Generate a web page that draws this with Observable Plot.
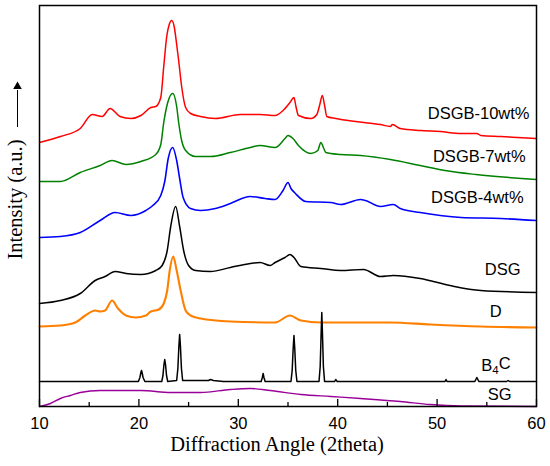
<!DOCTYPE html>
<html><head><meta charset="utf-8">
<script src="https://cdn.jsdelivr.net/npm/d3@7"></script>
<script src="https://cdn.jsdelivr.net/npm/@observablehq/plot@0.6"></script>
<style>html,body{margin:0;padding:0;background:#fff}</style>
</head><body><div id="chart"></div>
<script>
// ---- data ----
const xTicks = [10, 20, 30, 40, 50, 60];
const xMinorTicks = [15, 25, 35, 45, 55];
const seriesNames = ["DSGB-10wt%", "DSGB-7wt%", "DSGB-4wt%", "DSG", "D", "B4C", "SG"];
const seriesColors = ["#ff0000", "#008000", "#0000ff", "#000000", "#ff8000", "#000000", "#990099"];

const dsgb10 = [[10,264],[12.1,270],[14.1,278],[15.3,292],[16.3,290],[17.1,298],[18.1,290],[19.2,288],[20.2,291],[21.2,299],[21.7,300],[22.2,309],[22.5,340],[22.8,370],[23.05,382],[23.3,386],[23.55,380],[23.8,362],[24.0,346],[24.3,320],[24.7,299],[25.2,293],[26.2,290],[27.7,288],[30.2,292],[32.2,292],[33.7,291],[34.5,296],[35.2,304],[35.6,309],[35.8,300],[36.05,291],[37.3,288],[37.9,292],[38.2,302],[38.45,311],[38.7,300],[38.9,290],[39.8,288],[41.8,285],[44.3,282],[45.3,280],[45.5,282],[46.3,278],[48.3,276],[50.3,275],[52.4,273],[54.0,273],[54.4,271],[56.4,270],[60,268]];
const dsgb7 = [[10,225],[12.1,225],[14.1,234],[16.1,241],[17.3,246],[18.7,242],[20.2,245],[21.7,252],[22.2,262],[22.5,284],[22.9,304],[23.4,313],[23.8,300],[24.0,284],[24.3,266],[24.7,256],[25.7,250],[27.2,250],[29.2,254],[31.2,259],[32.2,261],[33.7,259],[34.7,268],[35.0,271],[35.5,268],[36.05,261],[37.3,253],[38.0,256],[38.3,264],[38.6,258],[38.8,254],[40.3,252],[42.3,251],[45.3,247],[48.3,241],[50.8,236],[53.9,232],[60,227]];
const dsgb4 = [[10,169],[12.1,170],[14.1,174],[16.1,186],[17.6,194],[19.2,191],[20.7,196],[21.4,201],[22.2,211],[22.6,225],[22.95,248],[23.4,259],[23.8,246],[24.1,228],[24.45,209],[25.2,198],[26.2,196],[27.7,198],[29.2,203],[31.2,210],[32.7,208],[33.7,207],[34.5,216],[35.0,224],[35.3,218],[35.75,213],[36.8,205],[39.3,204],[40.3,202],[42.3,207],[42.8,206],[44.3,200],[45.6,202],[46.3,198],[48.3,194],[52.4,189],[56.4,188],[60,186]];
const dsg = [[10,103],[12.1,106],[14.1,113],[15.6,126],[16.6,130],[17.6,135],[18.7,133],[20.2,132],[21.7,136],[22.34,141],[22.85,156],[23.2,180],[23.7,200],[24.1,180],[24.5,156],[25.0,141],[25.7,136],[27.2,135],[29.2,139],[31.2,143],[32.2,144],[33.2,141],[33.7,144],[34.7,149],[35.2,152],[35.6,149],[36.3,140],[38.3,138],[40.3,136],[42.6,137],[44.3,130],[45.6,131],[48.3,128],[51.3,121],[54.4,116],[60,114]];
const dPattern = [[10,80],[12.1,81],[13.6,84],[14.6,91],[15.6,96],[16.1,95],[16.6,96],[17.3,106],[17.9,98],[18.7,91],[19.7,89],[20.7,91],[21.2,95],[22.0,97],[22.5,103],[22.85,116],[23.1,136],[23.45,150],[23.8,136],[24.2,116],[24.7,96],[25.2,91],[26.2,88],[29.2,85],[33.7,84],[35.2,91],[36.3,86],[38.3,84],[42.3,84],[45.3,84],[49.3,82],[54.4,80],[60,79]];
const b4c = [[10,25],[19.95,25],[20.1,29],[20.2,34],[20.26,36],[20.32,34],[20.42,29],[20.6,25],[22.3,25],[22.42,31],[22.52,42],[22.6,47],[22.68,42],[22.78,31],[22.9,25],[23.8,26],[23.92,38],[24.02,60],[24.1,72],[24.18,60],[24.28,38],[24.4,26],[27.0,26],[27.2,27],[27.5,26],[28.5,25],[32.3,25],[32.42,29],[32.5,33],[32.58,29],[32.7,25],[35.3,25],[35.42,36],[35.52,58],[35.6,71],[35.68,58],[35.78,36],[35.9,25],[38.12,25],[38.24,40],[38.33,72],[38.4,94],[38.47,72],[38.56,40],[38.68,25],[39.7,25],[39.8,27],[39.95,25],[50.8,25],[50.9,27],[51.0,25],[53.8,25],[54.0,29],[54.2,25],[57.0,25],[57.15,26],[57.3,25],[60,25]];
const sg = [[10,0],[11.1,3],[12.1,8],[13.1,11],[14.1,14],[16.1,16],[18.1,16],[20.2,16],[23.2,14],[26.2,14],[29.2,17],[31.2,18],[33.2,16],[36.3,12],[39.3,10],[42.3,8],[46.3,5],[49.3,2],[52.4,0.5],[60,0]];

const seriesData = [dsgb10, dsgb7, dsgb4, dsg, dPattern, b4c, sg];
const labelAngle = [59.3, 58.9, 58.7, 58.4, 55.9, 57.4, 57.5];
const labelLevel = [293, 250, 209, 137, 95, 41, 12];
const arrowSpan = [279, 324];

// ---- build ----
const rows = seriesData.flatMap((pts, i) => pts.map(([a, v]) => ({series: seriesNames[i], angle: a, intensity: v})));
const labels = seriesNames.map((name, i) => ({name, angle: labelAngle[i], level: labelLevel[i], anchor: name === "D" ? "middle" : "end"}));
const strokeW = [1.5, 1.5, 1.6, 1.5, 2.1, 1.5, 1.4];

const lineMarks = seriesNames.map((name, i) =>
  Plot.line(rows.filter(r => r.series === name), {
    x: "angle", y: "intensity", stroke: seriesColors[i], strokeWidth: strokeW[i],
    curve: name === "B4C" ? "linear" : "monotone-x"
  })
);

const chart = Plot.plot({
  width: 550, height: 466,
  marginLeft: 39, marginRight: 14, marginTop: 5, marginBottom: 60,
  style: {fontFamily: "'Liberation Sans', Arial, sans-serif", background: "#fff"},
  x: {domain: [10, 60]},
  y: {domain: [0, 401], axis: null},
  marks: [
    ...lineMarks,
    Plot.ruleX(xTicks, {x: d => d, y1: 0, y2: 7, stroke: "#000", strokeWidth: 1.3}),
    Plot.ruleX(xMinorTicks, {x: d => d, y1: 0, y2: 4, stroke: "#000", strokeWidth: 1.3}),
    Plot.frame({stroke: "#000", strokeWidth: 1.5}),
    Plot.axisX({ticks: xTicks, tickSize: 0, tickPadding: 10.5, fontSize: 16.5, label: null, tickFormat: d => String(d), fill: "#000"}),
    Plot.text(labels.filter(d => d.anchor === "end"), {x: "angle", y: "level", text: "name", textAnchor: "end", fontSize: 16.5, fill: "#000"}),
    Plot.text(labels.filter(d => d.anchor === "middle"), {x: "angle", y: "level", text: "name", textAnchor: "middle", fontSize: 16.5, fill: "#000"}),
    Plot.text(["Diffraction Angle (2theta)"], {frameAnchor: "bottom", text: d => d, dy: 44, dx: -11, fontSize: 20.5, fontFamily: "'Liberation Serif', 'Times New Roman', serif", fill: "#000"}),
    Plot.text(["Intensity (a.u.)"], {frameAnchor: "left", textAnchor: "middle", text: d => d, rotate: -90, dx: -24, dy: -6.5, fontSize: 20.5, fontFamily: "'Liberation Serif', 'Times New Roman', serif", fill: "#000"}),
    Plot.ruleX([10], {x: d => d, y1: arrowSpan[0], y2: arrowSpan[1] - 8, dx: -22, stroke: "#000", strokeWidth: 1, clip: false}),
    Plot.dot([10], {x: d => d, y: arrowSpan[1] - 4, dx: -22, symbol: "triangle", r: 3.2, fill: "#000", stroke: "none"})
  ]
});

// subscript in B4C
d3.select(chart).selectAll("text").filter(function() { return this.textContent === "B4C"; }).each(function() {
  const t = d3.select(this);
  t.text("");
  t.append("tspan").text("B");
  t.append("tspan").attr("dy", "0.3em").attr("font-size", "11.5px").text("4");
  t.append("tspan").attr("dy", "-0.3em").text("C");
});

document.getElementById("chart").appendChild(chart);
</script>
</body></html>
